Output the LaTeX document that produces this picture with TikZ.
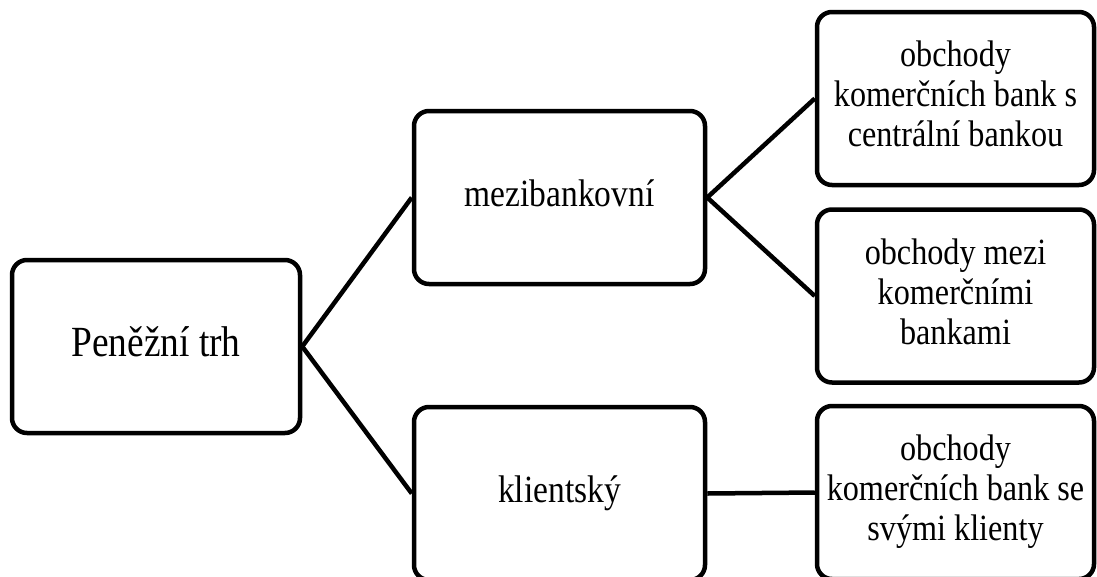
\documentclass[tikz,border=0pt]{standalone}
\usepackage{fontspec}
\usepackage{graphicx}
\setmainfont{Liberation Serif}
\newcommand{\narrowtext}[1]{\scalebox{0.87}[1]{\begin{tabular}{@{}c@{}}#1\end{tabular}}}
\begin{document}
\begin{tikzpicture}[x=1pt,y=-1pt,
  box/.style={draw=black, line width=4.5pt, rounded corners=15pt, rectangle, align=center, inner sep=0pt},
  link/.style={draw=black, line width=4.5pt},
  bigtxt/.style={font=\fontsize{43}{48}\selectfont},
  midtxt/.style={font=\fontsize{38.5}{44}\selectfont},
  smalltxt/.style={font=\fontsize{37}{40}\selectfont}]
\clip (0,0) rectangle (1097,576);
\fill[white] (0,0) rectangle (1097,576);
\node[box, bigtxt, minimum width=288pt, minimum height=173pt] (root) at (156,346.5) {\narrowtext{Peněžní trh}};
\node[box, midtxt, minimum width=291pt, minimum height=173pt] (mezi) at (559.5,197.5) {\narrowtext{mezibankovní}};
\node[box, midtxt, minimum width=291pt, minimum height=173pt] (klient) at (559.5,493.5) {\narrowtext{klientský}};
\node[box, smalltxt, minimum width=277pt, minimum height=173pt] (r1) at (955.5,98.5) {\narrowtext{obchody\\komerčních bank s\\centrální bankou}};
\node[box, smalltxt, minimum width=277pt, minimum height=173pt] (r2) at (955.5,296) {\narrowtext{obchody mezi\\komerčními\\bankami}};
\node[box, smalltxt, minimum width=277pt, minimum height=173pt] (r3) at (955.5,492.5) {\narrowtext{obchody\\komerčních bank se\\svými klienty}};
\draw[link] (root.east) -- (mezi.west);
\draw[link] (root.east) -- (klient.west);
\draw[link] (mezi.east) -- (r1.west);
\draw[link] (mezi.east) -- (r2.west);
\draw[link] (klient.east) -- (r3.west);
\end{tikzpicture}
\end{document}
